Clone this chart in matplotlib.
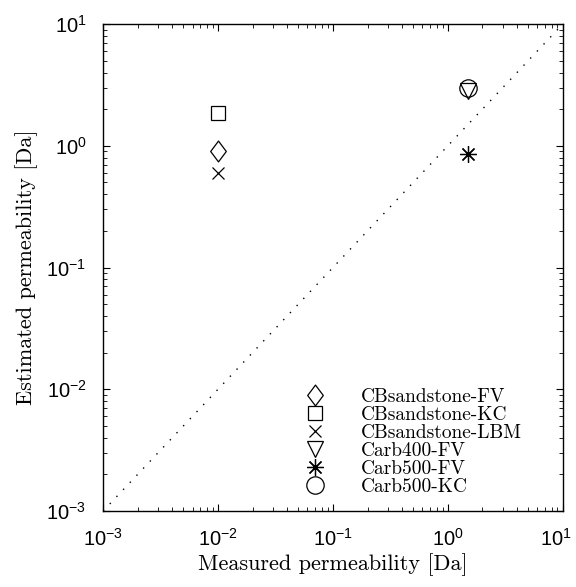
import matplotlib
matplotlib.use("Agg")
import matplotlib.pyplot as plt
import matplotlib.transforms as mtransforms
from matplotlib.path import Path

# data
names = ['CBsandstone-FV', 'CBsandstone-KC', 'CBsandstone-LBM',
         'Carb400-FV', 'Carb500-FV', 'Carb500-KC']
measured = [0.01, 0.01, 0.01, 1.5, 1.5, 1.5]
estimated = [0.9, 1.85, 0.6, 2.8, 0.86, 3.0]
decades = [1e-3, 1e-2, 1e-1, 1e0, 1e1]

# matlab-like marker shapes
diamond = Path([(0, 1), (0.75, 0), (0, -1), (-0.75, 0), (0, 1)],
               [1, 2, 2, 2, 79])
markers = [diamond, 's', 'x', 'v', (8, 2, 0), 'o']
msizes = [15, 9.5, 8, 12, 12, 12.5]
filled = [False, False, True, False, True, False]

plt.rcParams['font.family'] = ['Liberation Sans', 'DejaVu Sans']
plt.rcParams['mathtext.fontset'] = 'custom'
plt.rcParams['mathtext.rm'] = 'Liberation Sans'
plt.rcParams['axes.unicode_minus'] = False

fig = plt.figure(figsize=(5.76, 5.87), dpi=100)
ax = fig.add_axes([0.179, 0.1295, 0.798, 0.8295])

for n, x, y, m, s, f in zip(names, measured, estimated, markers, msizes, filled):
    if f:
        ax.plot(x, y, marker=m, ls='none', ms=s, color='black', mew=0.9, label=n)
    else:
        ax.plot(x, y, marker=m, ls='none', ms=s, mfc='none', mec='black', mew=0.9, label=n)

ax.plot([1e-3, 1e1], [1e-3, 1e1], ls=(0, (1, 6)), color='black', lw=1.0)

ax.set_xscale('log')
ax.set_yscale('log')
ax.set_xlim(1e-3, 1e1)
ax.set_ylim(1e-3, 1e1)
ax.set_xticks(decades)
ax.set_yticks(decades)

ax.tick_params(which='both', direction='in', top=True, right=True, labelsize=14.5)
ax.tick_params(which='major', length=5, width=0.8)
ax.tick_params(which='minor', length=3, width=0.6)
ax.tick_params(axis='x', pad=12)
ax.tick_params(axis='y', pad=12)
for sp in ax.spines.values():
    sp.set_linewidth(1.0)

# keep the last x label inside the figure
lab = ax.xaxis.get_major_ticks()[-1].label1
lab.set_transform(lab.get_transform() + mtransforms.ScaledTranslation(-5 / 72, 0, fig.dpi_scale_trans))

ax.set_xlabel('Measured permeability [Da]', family='cmr10', fontsize=16, labelpad=3)
ax.set_ylabel('Estimated permeability [Da]', family='cmr10', fontsize=16, labelpad=6)

ax.legend(loc='lower left', bbox_to_anchor=(0.429, 0.031), frameon=False,
          prop={'family': 'cmr10', 'size': 14}, borderaxespad=0, borderpad=0,
          handletextpad=1.6, labelspacing=0.0, handlelength=1.5)

fig.savefig('out.png', dpi=100)
